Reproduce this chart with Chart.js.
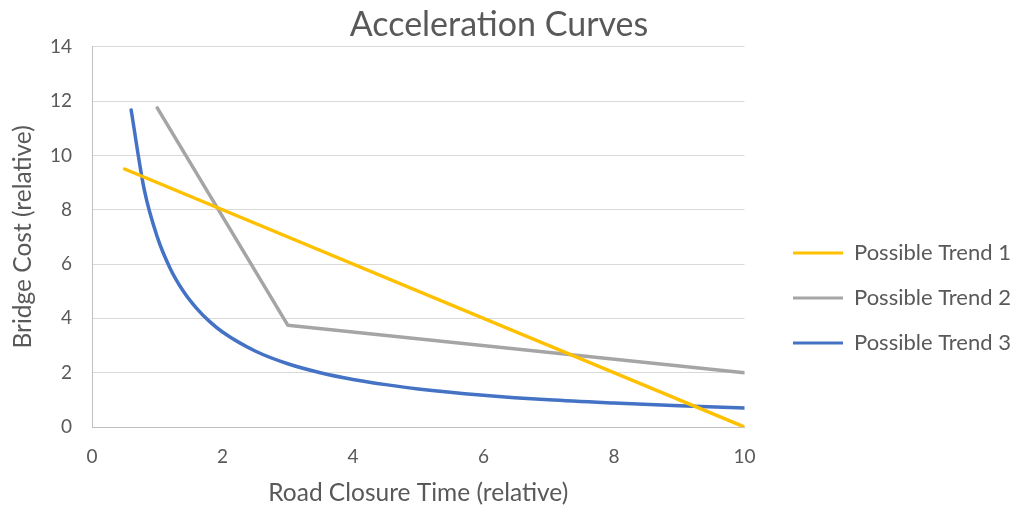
<!DOCTYPE html>
<html>
<head>
<meta charset="utf-8">
<script src="https://cdn.jsdelivr.net/npm/chart.js@4"></script>
<style>
  html, body { margin: 0; padding: 0; background: #fff; }
  #chart { display: block; }
</style>
</head>
<body>
<canvas id="chart" width="1015" height="512"></canvas>
<script>
// values
const trend1X = [0.5, 10];
const trend1Y = [9.5, 0];
const trend2X = [1, 3, 10];
const trend2Y = [11.75, 3.75, 2];
const trend3X = [0.6, 0.8, 1, 1.2, 1.4, 1.6, 1.8, 2, 2.5, 3, 3.5, 4, 4.5, 5, 6, 7, 8, 9, 10];
const trend3Y = [11.67, 8.75, 7, 5.83, 5, 4.38, 3.89, 3.5, 2.8, 2.33, 2, 1.75, 1.56, 1.4, 1.17, 1, 0.88, 0.78, 0.7];
const seriesNames = ['Possible Trend 1', 'Possible Trend 2', 'Possible Trend 3'];
const seriesColors = ['#FFC000', '#A5A5A5', '#4472C4'];
const xTicks = [0, 2, 4, 6, 8, 10];
const yTicks = [0, 2, 4, 6, 8, 10, 12, 14];

function pts(xs, ys) {
    return xs.map((x, i) => ({ x: x, y: ys[i] }));
}

const textColor = '#595959';
const fontFamily = 'Lato, "Open Sans", sans-serif';

// nudge the legend block so it sits where the reference has it
const legendShift = {
    id: 'legendShift',
    afterLayout(chart) {
        const lg = chart.legend;
        const dx = 793 - 23 - lg.left;
        lg.left += dx; lg.right += dx;
        lg.top += 44; lg.bottom += 44;
    }
};

const ctx = document.getElementById('chart').getContext('2d');
new Chart(ctx, {
    type: 'scatter',
    data: {
        datasets: [
            { label: seriesNames[0], data: pts(trend1X, trend1Y) },
            { label: seriesNames[1], data: pts(trend2X, trend2Y) },
            { label: seriesNames[2], data: pts(trend3X, trend3Y), cubicInterpolationMode: 'monotone' }
        ].map((d, i) => Object.assign(d, {
            showLine: true,
            borderColor: seriesColors[i],
            backgroundColor: seriesColors[i],
            borderWidth: 3.5,
            pointRadius: 0,
            pointHoverRadius: 0,
            borderCapStyle: 'round',
            borderJoinStyle: 'round'
        }))
    },
    options: {
        responsive: false,
        animation: false,
        layout: { padding: { left: 8, right: 25, top: 0, bottom: 4 } },
        plugins: {
            title: {
                display: true,
                text: 'Acceleration Curves',
                color: textColor,
                font: { family: fontFamily, size: 34, weight: 'normal' },
                padding: { top: 5, bottom: 1 }
            },
            legend: {
                position: 'right',
                labels: {
                    color: textColor,
                    font: { family: fontFamily, size: 22 },
                    boxWidth: 50,
                    boxHeight: 3,
                    padding: 23,
                    generateLabels: chart => chart.data.datasets.map((d, i) => ({
                        text: d.label,
                        fillStyle: seriesColors[i],
                        strokeStyle: seriesColors[i],
                        lineWidth: 0,
                        fontColor: textColor,
                        datasetIndex: i
                    }))
                }
            },
            tooltip: { enabled: false }
        },
        scales: {
            x: {
                type: 'linear',
                min: 0,
                max: 10,
                afterBuildTicks: axis => { axis.ticks = xTicks.map(v => ({ value: v })); },
                afterFit: axis => { axis.height = 81; },
                grid: { display: false, drawTicks: false },
                border: { color: '#BFBFBF', width: 1 },
                ticks: { color: textColor, font: { family: fontFamily, size: 19 }, padding: 18 },
                title: {
                    display: true,
                    text: 'Road Closure Time (relative)',
                    color: textColor,
                    font: { family: fontFamily, size: 24.5 },
                    padding: { top: 0, bottom: 0 }
                }
            },
            y: {
                type: 'linear',
                min: 0,
                max: 14,
                afterBuildTicks: axis => { axis.ticks = yTicks.map(v => ({ value: v })); },
                afterFit: axis => { axis.width = 84; },
                grid: { color: '#D9D9D9', lineWidth: 1, drawTicks: false },
                border: { color: '#BFBFBF', width: 1 },
                ticks: { color: textColor, font: { family: fontFamily, size: 19 }, padding: 20 },
                title: {
                    display: true,
                    text: 'Bridge Cost (relative)',
                    color: textColor,
                    font: { family: fontFamily, size: 24.5 },
                    padding: { top: 0, bottom: 0 }
                }
            }
        }
    },
    plugins: [legendShift]
});
</script>
</body>
</html>
